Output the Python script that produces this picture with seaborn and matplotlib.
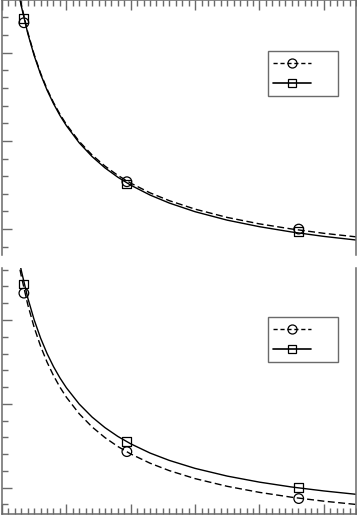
import matplotlib
matplotlib.use("Agg")
import matplotlib.pyplot as plt
from matplotlib.lines import Line2D
from matplotlib.ticker import MultipleLocator
import seaborn as sns

marker_x = [0.34, 1.94, 4.61]

top_circle_y = [3.34, 1.537, 1.00]
top_square_y = [3.39, 1.51, 0.97]
bot_circle_y = [3.32, 1.43, 0.87]
bot_square_y = [3.43, 1.55, 1.00]

# curves
curve_x = [0.3, 0.4, 0.5, 0.6, 0.7, 0.8, 0.9, 1.0, 1.2, 1.4, 1.6, 1.8,
           2.0, 2.3, 2.6, 3.0, 3.5, 4.0, 4.5, 5.0, 5.5]

top_solid_y = [3.529, 3.220, 2.967, 2.755, 2.576, 2.423, 2.289, 2.173, 1.978,
               1.822, 1.694, 1.588, 1.498, 1.386, 1.295, 1.197, 1.101, 1.027,
               0.967, 0.917, 0.876]
top_dash_y = [3.545, 3.233, 2.979, 2.767, 2.588, 2.435, 2.303, 2.187, 1.994,
              1.840, 1.714, 1.609, 1.521, 1.411, 1.322, 1.226, 1.132, 1.059,
              1.001, 0.952, 0.912]
bot_solid_y = [3.589, 3.264, 3.001, 2.783, 2.600, 2.444, 2.309, 2.192, 1.997,
               1.842, 1.716, 1.611, 1.523, 1.413, 1.325, 1.230, 1.138, 1.066,
               1.008, 0.961, 0.921]
bot_dash_y = [3.523, 3.184, 2.911, 2.686, 2.497, 2.337, 2.199, 2.079, 1.881,
              1.724, 1.597, 1.491, 1.402, 1.292, 1.203, 1.108, 1.016, 0.944,
              0.886, 0.839, 0.800]

# where each curve leaves the top of its panel
top_start = [(0.28, 3.599), (0.285, 3.598)]
bot_start = [(0.29, 3.626), (0.28, 3.600)]

sns.set_style("ticks")
GREY = "#6a6a6a"

fig = plt.figure(figsize=(3.57, 5.16), dpi=100)
ax_top = fig.add_axes([2 / 357, 261 / 516, 354 / 357, 255 / 516])
ax_bot = fig.add_axes([2 / 357, 2 / 516, 354 / 357, 246 / 516])


def style_axes(ax, ylim, xside):
    ax.set_xlim(0, 5.5)
    ax.set_ylim(*ylim)
    ax.xaxis.set_major_locator(MultipleLocator(1))
    ax.xaxis.set_minor_locator(MultipleLocator(0.1))
    ax.yaxis.set_major_locator(MultipleLocator(1))
    ax.yaxis.set_minor_locator(MultipleLocator(0.2))
    ax.tick_params(which="both", direction="in", color=GREY, width=1,
                   labelleft=False, labelbottom=False, labeltop=False,
                   left=True, right=False, top=(xside == "top"),
                   bottom=(xside == "bottom"))
    ax.tick_params(which="major", length=7)
    ax.tick_params(which="minor", length=4)
    for sp in ax.spines.values():
        sp.set_color(GREY)
        sp.set_linewidth(1.1)
    hidden = "bottom" if xside == "top" else "top"
    ax.spines[hidden].set_visible(False)
    ax.set_xlabel("")
    ax.set_ylabel("")


def draw_panel(ax, start, sy, dy, cy, qy):
    sx_all = [start[0][0]] + curve_x
    sy_all = [start[0][1]] + sy
    dx_all = [start[1][0]] + curve_x
    dy_all = [start[1][1]] + dy
    sns.lineplot(x=sx_all, y=sy_all, ax=ax, color="black", linewidth=1.0, sort=False)
    sns.lineplot(x=dx_all, y=dy_all, ax=ax, color="black", linewidth=1.0, sort=False,
                 linestyle=(0, (5, 2.5)))
    sns.scatterplot(x=marker_x, y=cy, ax=ax, marker="o", s=48,
                    facecolor="none", edgecolor="black", linewidth=0.9, zorder=3)
    sns.scatterplot(x=marker_x, y=qy, ax=ax, marker="s", s=40,
                    facecolor="none", edgecolor="black", linewidth=0.9, zorder=3)
    handles = [
        Line2D([], [], color="black", lw=1.0, ls=(0, (3, 2)), marker="o",
               ms=6.5, mfc="none", mec="black", mew=0.9),
        Line2D([], [], color="black", lw=1.2, ls="-", marker="s",
               ms=6, mfc="none", mec="black", mew=0.9),
    ]
    leg = ax.legend(handles=handles, labels=["", ""], loc="upper left",
                    bbox_to_anchor=(0.751, 0.800), fontsize=10, numpoints=1,
                    handlelength=2.74, handletextpad=1.5, borderpad=0.40,
                    labelspacing=0.42, fancybox=False, framealpha=1,
                    borderaxespad=0)
    leg.get_frame().set_edgecolor(GREY)
    leg.get_frame().set_linewidth(1.0)


draw_panel(ax_top, top_start, top_solid_y, top_dash_y, top_circle_y, top_square_y)
draw_panel(ax_bot, bot_start, bot_solid_y, bot_dash_y, bot_circle_y, bot_square_y)

style_axes(ax_top, (0.706, 3.598), "top")
style_axes(ax_bot, (0.686, 3.620), "bottom")

fig.savefig("out.png", dpi=100)
